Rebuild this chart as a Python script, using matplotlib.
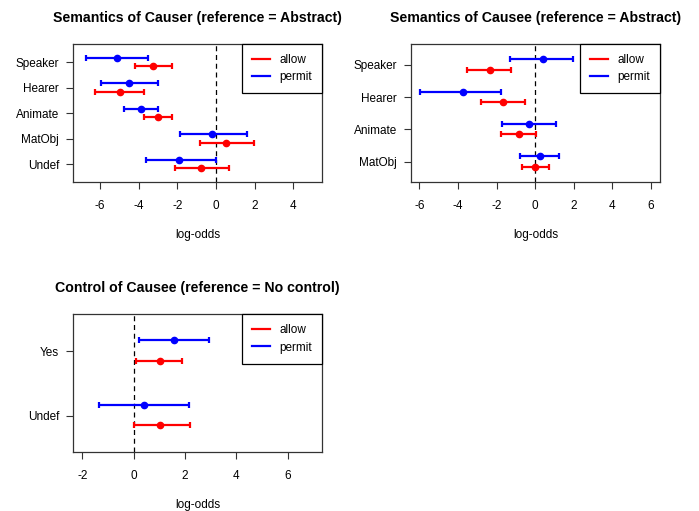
import matplotlib
matplotlib.use("Agg")
import matplotlib.pyplot as plt
import numpy as np
from matplotlib.lines import Line2D

plt.rcParams['font.family'] = ['Liberation Sans', 'DejaVu Sans']

# ---- data ----
causer_cats = ["Speaker", "Hearer", "Animate", "MatObj", "Undef"]
causer_allow_est = [-3.26, -4.99, -3.02, 0.50, -0.76]
causer_allow_lo = [-4.21, -6.24, -3.71, -0.83, -2.10]
causer_allow_hi = [-2.29, -3.71, -2.29, 1.99, 0.69]
causer_permit_est = [-5.13, -4.51, -3.86, -0.21, -1.89]
causer_permit_lo = [-6.72, -5.94, -4.75, -1.85, -3.64]
causer_permit_hi = [-3.52, -3.00, -3.00, 1.59, 0.00]

causee_cats = ["Speaker", "Hearer", "Animate", "MatObj"]
causee_allow_est = [-2.34, -1.66, -0.85, -0.02]
causee_allow_lo = [-3.51, -2.80, -1.78, -0.67]
causee_allow_hi = [-1.25, -0.52, 0.05, 0.71]
causee_permit_est = [0.40, -3.75, -0.29, 0.28]
causee_permit_lo = [-1.30, -5.95, -1.70, -0.80]
causee_permit_hi = [1.96, -1.76, 1.09, 1.26]

control_cats = ["Yes", "Undef"]
control_allow_est = [1.04, 1.04]
control_allow_lo = [0.08, 0.03]
control_allow_hi = [1.90, 2.21]
control_permit_est = [1.58, 0.40]
control_permit_lo = [0.21, -1.35]
control_permit_hi = [2.94, 2.16]

titles = ["Semantics of Causer (reference = Abstract)",
          "Semantics of Causee (reference = Abstract)",
          "Control of Causee (reference = No control)"]
series_names = ["allow", "permit"]
xlabel = "log-odds"

RED = "#FF0000"
BLUE = "#0000FF"
FS = 8.5

fig = plt.figure(figsize=(6.99, 5.11), dpi=100)

def panel(rect, title, cats, a, p, xlim, ylim, xticks):
    ax = fig.add_axes(rect)
    n = len(cats)
    ypos = np.arange(n, 0, -1)
    for (est, lo, hi), col, off in ((p, BLUE, 0.17), (a, RED, -0.15)):
        est = np.array(est); lo = np.array(lo); hi = np.array(hi)
        ax.errorbar(est, ypos + off, xerr=[est - lo, hi - est], fmt='o',
                    color=col, ecolor=col, elinewidth=1.6, capsize=2.2,
                    capthick=1.6, markersize=4.5, zorder=3)
    ax.axvline(0, color='black', linestyle=(0, (4, 3)), linewidth=0.9, zorder=2)
    ax.set_xlim(*xlim)
    ax.set_ylim(*ylim)
    ax.set_xticks(xticks)
    ax.set_xticklabels([str(t) for t in xticks])
    ax.set_yticks(ypos)
    ax.set_yticklabels(cats)
    ax.tick_params(axis='x', length=5, width=0.8, pad=8, labelsize=FS, color='#333333')
    ax.tick_params(axis='y', length=5, width=0.8, pad=5, labelsize=FS, color='#333333')
    for s in ax.spines.values():
        s.set_color('#333333')
        s.set_linewidth(0.9)
    ax.set_xlabel(xlabel, fontsize=FS, labelpad=12)
    ax.set_title(title, fontsize=10.2, fontweight='bold', pad=16)
    handles = [Line2D([], [], color=RED, lw=1.6), Line2D([], [], color=BLUE, lw=1.6)]
    leg = ax.legend(handles, series_names, loc='upper right', borderaxespad=0,
                    fancybox=False, framealpha=1, edgecolor='black', fontsize=FS,
                    handlelength=1.5, borderpad=0.85, labelspacing=0.45, handletextpad=0.8)
    leg.get_frame().set_linewidth(0.9)
    return ax

W, H = 0.3562, 0.2701
panel([0.1044, 0.6438, W, H], titles[0], causer_cats,
      (causer_allow_est, causer_allow_lo, causer_allow_hi),
      (causer_permit_est, causer_permit_lo, causer_permit_hi),
      (-7.4, 5.48), (0.3, 5.72), [-6, -4, -2, 0, 2, 4])
panel([0.588, 0.6438, W, H], titles[1], causee_cats,
      (causee_allow_est, causee_allow_lo, causee_allow_hi),
      (causee_permit_est, causee_permit_lo, causee_permit_hi),
      (-6.44, 6.49), (0.37, 4.65), [-6, -4, -2, 0, 2, 4, 6])
panel([0.1044, 0.1149, W, H], titles[2], control_cats,
      (control_allow_est, control_allow_lo, control_allow_hi),
      (control_permit_est, control_permit_lo, control_permit_hi),
      (-2.36, 7.34), (0.43, 2.57), [-2, 0, 2, 4, 6])

fig.savefig("out.png", dpi=100)
